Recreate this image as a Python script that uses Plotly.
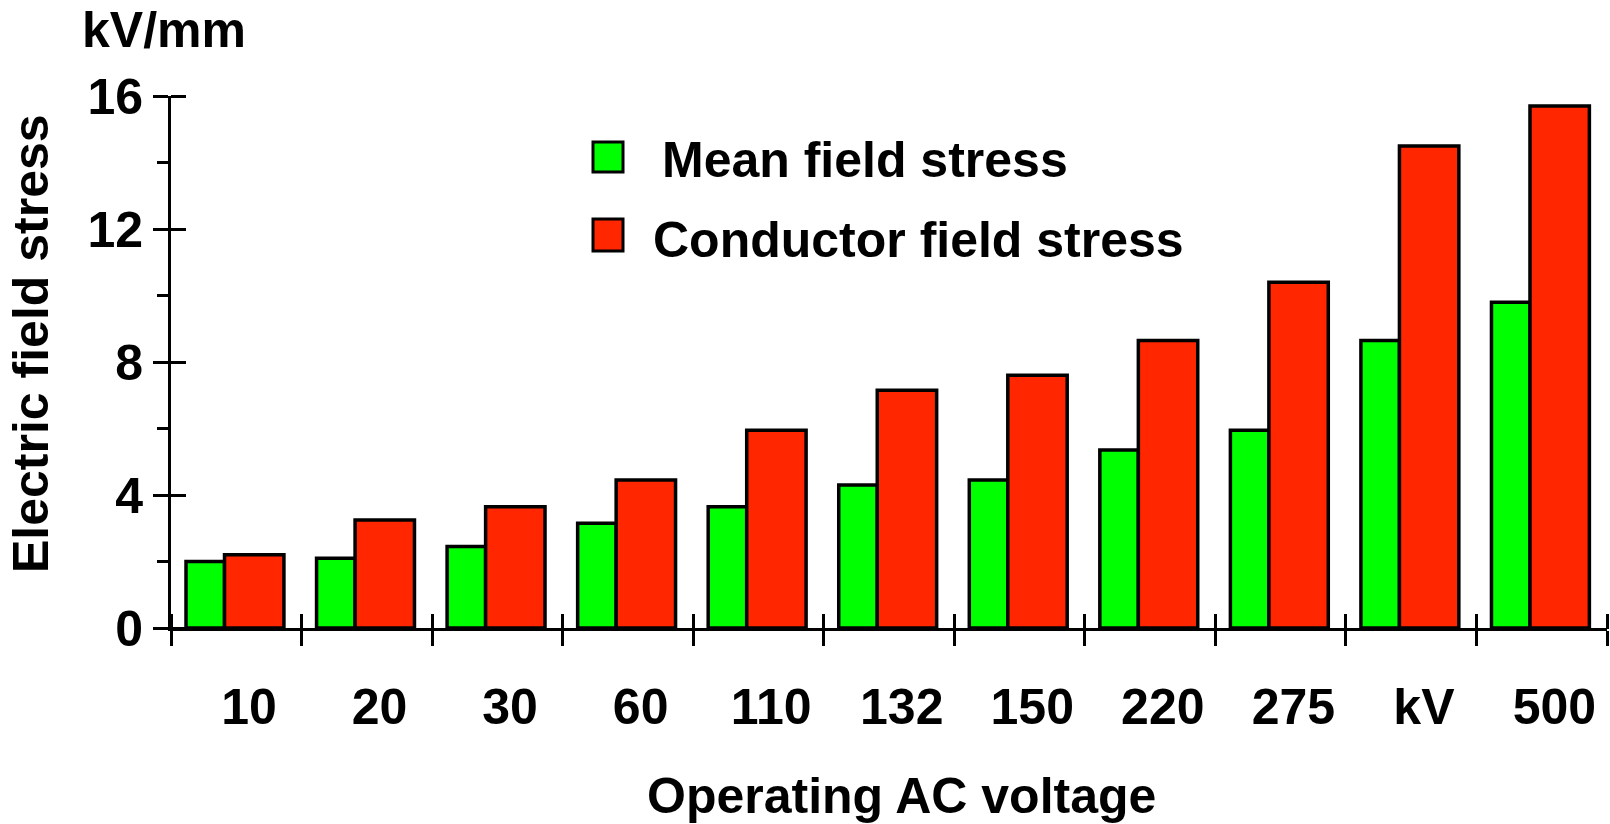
import plotly.graph_objects as go

# Operating voltage classes (category labels along the x axis)
voltages = ["10", "20", "30", "60", "110", "132", "150", "220", "275", "kV", "500"]
# Electric field stress in kV/mm
mean_stress = [2.0, 2.1, 2.45, 3.15, 3.65, 4.3, 4.45, 5.35, 5.95, 8.65, 9.8]
conductor_stress = [2.2, 3.25, 3.65, 4.45, 5.95, 7.15, 7.6, 8.65, 10.4, 14.5, 15.7]
y_ticks = [0, 4, 8, 12, 16]
y_minor_ticks = [2, 6, 10, 14]
series_names = ["Mean field stress", "Conductor field stress"]

W, H = 1610, 824
L, R, T, B = 171, 3, 96, 196
PLOT_W, PLOT_H = W - L - R, H - T - B
TICK = 15  # half-length of the crossing ticks
GREEN = "#00FF00"
RED = "#FF2600"
FONT = dict(family="Liberation Sans, Arial, sans-serif", size=50, color="black", weight="bold")

pos = list(range(len(voltages)))
bounds = [i - 0.5 for i in range(len(voltages) + 1)]
xr = [-0.5, len(voltages) - 0.5]
yr = [0, 16]
# category labels sit a little right of each category centre
label_shift = int(round(PLOT_W / len(voltages) / 2 + 13))


def px_x(p):
    return (p - L) / PLOT_W


def px_y(p):
    return (H - B - p) / PLOT_H


fig = go.Figure()
# Mean stress on the primary axes, conductor stress on an overlaid pair with
# identical ranges; the overlaid axes sit one tick-length inside the plot so
# their outside ticks complete the crossing ticks of the primary axes.
fig.add_bar(
    x=pos, y=mean_stress, name=series_names[0],
    offset=-0.385, width=0.295,
    marker=dict(color=GREEN, line=dict(color="black", width=3.5)),
    showlegend=False, xaxis="x", yaxis="y",
)
fig.add_bar(
    x=pos, y=conductor_stress, name=series_names[1],
    offset=-0.09, width=0.455,
    marker=dict(color=RED, line=dict(color="black", width=3.5)),
    showlegend=False, xaxis="x2", yaxis="y2",
)

axis_common = dict(showgrid=False, zeroline=False, fixedrange=True)

fig.update_layout(
    width=W, height=H,
    margin=dict(l=L, r=R, t=T, b=B, pad=0),
    paper_bgcolor="white", plot_bgcolor="white",
    barmode="overlay",
    font=FONT,
    xaxis=dict(
        range=xr, tickmode="array", tickvals=bounds, ticktext=voltages + [""],
        ticks="outside", ticklen=TICK, tickwidth=3, tickcolor="black",
        tickfont=FONT, ticklabelshift=label_shift, ticklabelstandoff=18,
        showline=True, linewidth=3, linecolor="black", **axis_common,
    ),
    xaxis2=dict(
        overlaying="x", anchor="free", position=TICK / PLOT_H, side="bottom",
        range=xr, tickmode="array", tickvals=bounds, showticklabels=False,
        ticks="outside", ticklen=TICK, tickwidth=3, tickcolor="black",
        showline=False, **axis_common,
    ),
    yaxis=dict(
        range=yr, tickmode="array", tickvals=y_ticks,
        ticks="outside", ticklen=TICK, tickwidth=3, tickcolor="black",
        minor=dict(tickmode="array", tickvals=y_minor_ticks, ticks="outside",
                   ticklen=11, tickwidth=3, tickcolor="black", showgrid=False),
        showline=True, linewidth=3, linecolor="black",
        tickfont=FONT, ticklabelstandoff=0,
        **axis_common,
    ),
    yaxis2=dict(
        overlaying="y", anchor="free", position=TICK / PLOT_W, side="left",
        range=yr, tickmode="array", tickvals=y_ticks, showticklabels=False,
        ticks="outside", ticklen=TICK, tickwidth=3, tickcolor="black",
        showline=False, **axis_common,
    ),
)

annotations = [
    dict(text="kV/mm", x=px_x(80), y=px_y(30), xanchor="left", yanchor="middle"),
    dict(text="Electric field stress", x=px_x(31), y=px_y(344), textangle=-90,
         xanchor="center", yanchor="middle"),
    dict(text="Operating AC voltage", x=px_x(901), y=px_y(796),
         xanchor="center", yanchor="middle"),
    dict(text=series_names[0], x=px_x(660), y=px_y(160), xanchor="left", yanchor="middle"),
    dict(text=series_names[1], x=px_x(651), y=px_y(240), xanchor="left", yanchor="middle"),
]
for a in annotations:
    fig.add_annotation(xref="paper", yref="paper", showarrow=False, font=FONT, **a)

# Legend swatches
for color, (top, bottom) in zip([GREEN, RED], [(142, 172), (219, 251)]):
    fig.add_shape(
        type="rect", xref="paper", yref="paper",
        x0=px_x(593), x1=px_x(623), y0=px_y(bottom), y1=px_y(top),
        fillcolor=color, line=dict(color="black", width=3),
    )

fig.write_html("out.html")
